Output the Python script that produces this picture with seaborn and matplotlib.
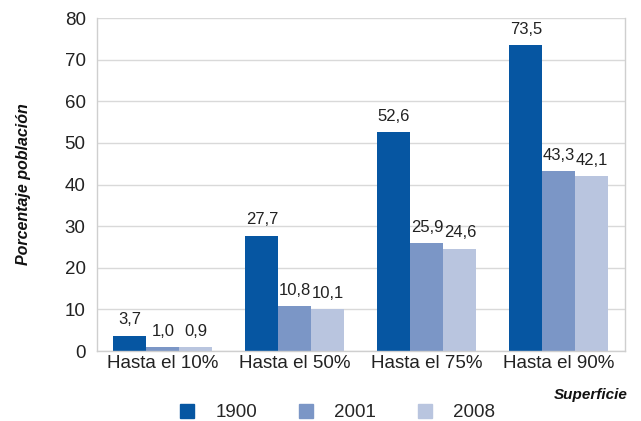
import numpy as np
import pandas as pd
import matplotlib
matplotlib.use("Agg")
import matplotlib.pyplot as plt
import seaborn as sns

categorias = ["Hasta el 10%", "Hasta el 50%", "Hasta el 75%", "Hasta el 90%"]
anios = ["1900", "2001", "2008"]
valores_1900 = [3.7, 27.7, 52.6, 73.5]
valores_2001 = [1.0, 10.8, 25.9, 43.3]
valores_2008 = [0.9, 10.1, 24.6, 42.1]
colores = ["#0656A2", "#7B96C6", "#B9C5DF"]

df = pd.DataFrame({
    "Superficie": categorias * 3,
    "Año": [a for a in anios for _ in categorias],
    "Porcentaje": valores_1900 + valores_2001 + valores_2008,
})

sns.set_style("white")
plt.rcParams["font.family"] = ["Liberation Sans", "DejaVu Sans"]

fig, ax = plt.subplots(figsize=(6.41, 4.21), dpi=100)
fig.subplots_adjust(left=0.151, right=0.975, top=0.957, bottom=0.166)

sns.barplot(data=df, x="Superficie", y="Porcentaje", hue="Año",
            palette=colores, width=0.75, saturation=1, linewidth=0,
            ax=ax, legend=False)

for cont in ax.containers:
    ax.bar_label(cont, labels=[f"{v:.1f}".replace(".", ",") for v in cont.datavalues],
                 padding=6, fontsize=12, color="#222222")

ax.set_ylim(0, 80)
ax.set_yticks(range(0, 81, 10))
ax.tick_params(axis="y", labelsize=13.5, length=0, pad=8, colors="#222222")
ax.tick_params(axis="x", labelsize=13.5, length=0, pad=3, colors="#222222")
ax.yaxis.grid(True, color="#D9D9D9", linewidth=1)
ax.set_axisbelow(True)
ax.spines["top"].set_visible(False)
for s in ["left", "bottom", "right"]:
    ax.spines[s].set_color("#CFCFCF")
    ax.spines[s].set_linewidth(1)

ax.set_xlabel("")
ax.set_ylabel("Porcentaje población", fontsize=11.5, fontweight="bold",
              fontstyle="italic", labelpad=24, color="#111111")

fig.text(0.98, 0.062, "Superficie", ha="right", va="center", fontsize=11,
         fontweight="bold", fontstyle="italic", color="#111111")

handles = [plt.Line2D([], [], marker="s", linestyle="", markersize=10,
                      color=c) for c in colores]
fig.legend(handles, anios, loc="center", bbox_to_anchor=(0.525, 0.02),
           ncol=3, frameon=False, fontsize=13.5, handletextpad=1.0,
           columnspacing=2.1, handlelength=1.0)

fig.savefig("out.png", dpi=100)
